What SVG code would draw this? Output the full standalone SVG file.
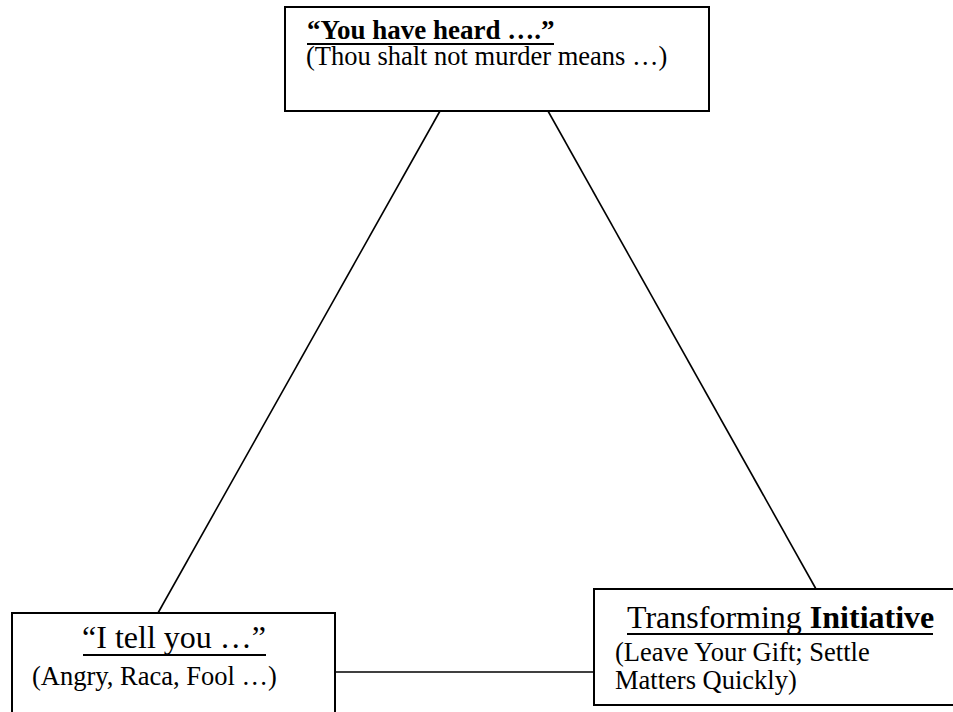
<svg xmlns="http://www.w3.org/2000/svg" width="953" height="712" viewBox="0 0 953 712">
<style>
.box{fill:#fff;stroke:#000;stroke-width:2}
.t{font-family:"Liberation Serif","Times New Roman",serif;fill:#000}
.b{font-size:26.5px}
.h{font-size:32px}
.ul{stroke:#000;stroke-width:2}
.conn line{stroke:#000;stroke-width:1.6}
</style>
<rect width="953" height="712" fill="#fff"/>
<g class="conn" id="connectors">
<line x1="440" y1="111" x2="158" y2="613"/>
<line x1="548" y1="111" x2="816" y2="589"/>
<line x1="335" y1="672" x2="594" y2="672"/>
</g>
<g id="node-heard">
<rect class="box" x="285" y="7" width="424" height="104"/>
<text class="t" x="307" y="39" font-size="27" font-weight="bold">“You have heard ….”</text>
<line class="ul" x1="307" y1="44" x2="554" y2="44"/>
<text class="t b" x="306" y="65">(Thou shalt not murder means …)</text>
</g>
<g id="node-tell">
<rect class="box" x="12" y="613" width="323" height="110"/>
<text class="t h" x="174" y="648" text-anchor="middle">“I tell you …”</text>
<line class="ul" x1="83" y1="655" x2="266" y2="655"/>
<text class="t b" x="32" y="685">(Angry, Raca, Fool …)</text>
</g>
<g id="node-transforming">
<rect class="box" x="594" y="589" width="370" height="116"/>
<text class="t h" x="627" y="628">Transforming <tspan font-weight="bold">Initiative</tspan></text>
<line class="ul" x1="627" y1="634" x2="933" y2="634"/>
<text class="t b" x="615" y="661">(Leave Your Gift; Settle</text>
<text class="t b" x="615" y="689">Matters Quickly)</text>
</g>
</svg>
